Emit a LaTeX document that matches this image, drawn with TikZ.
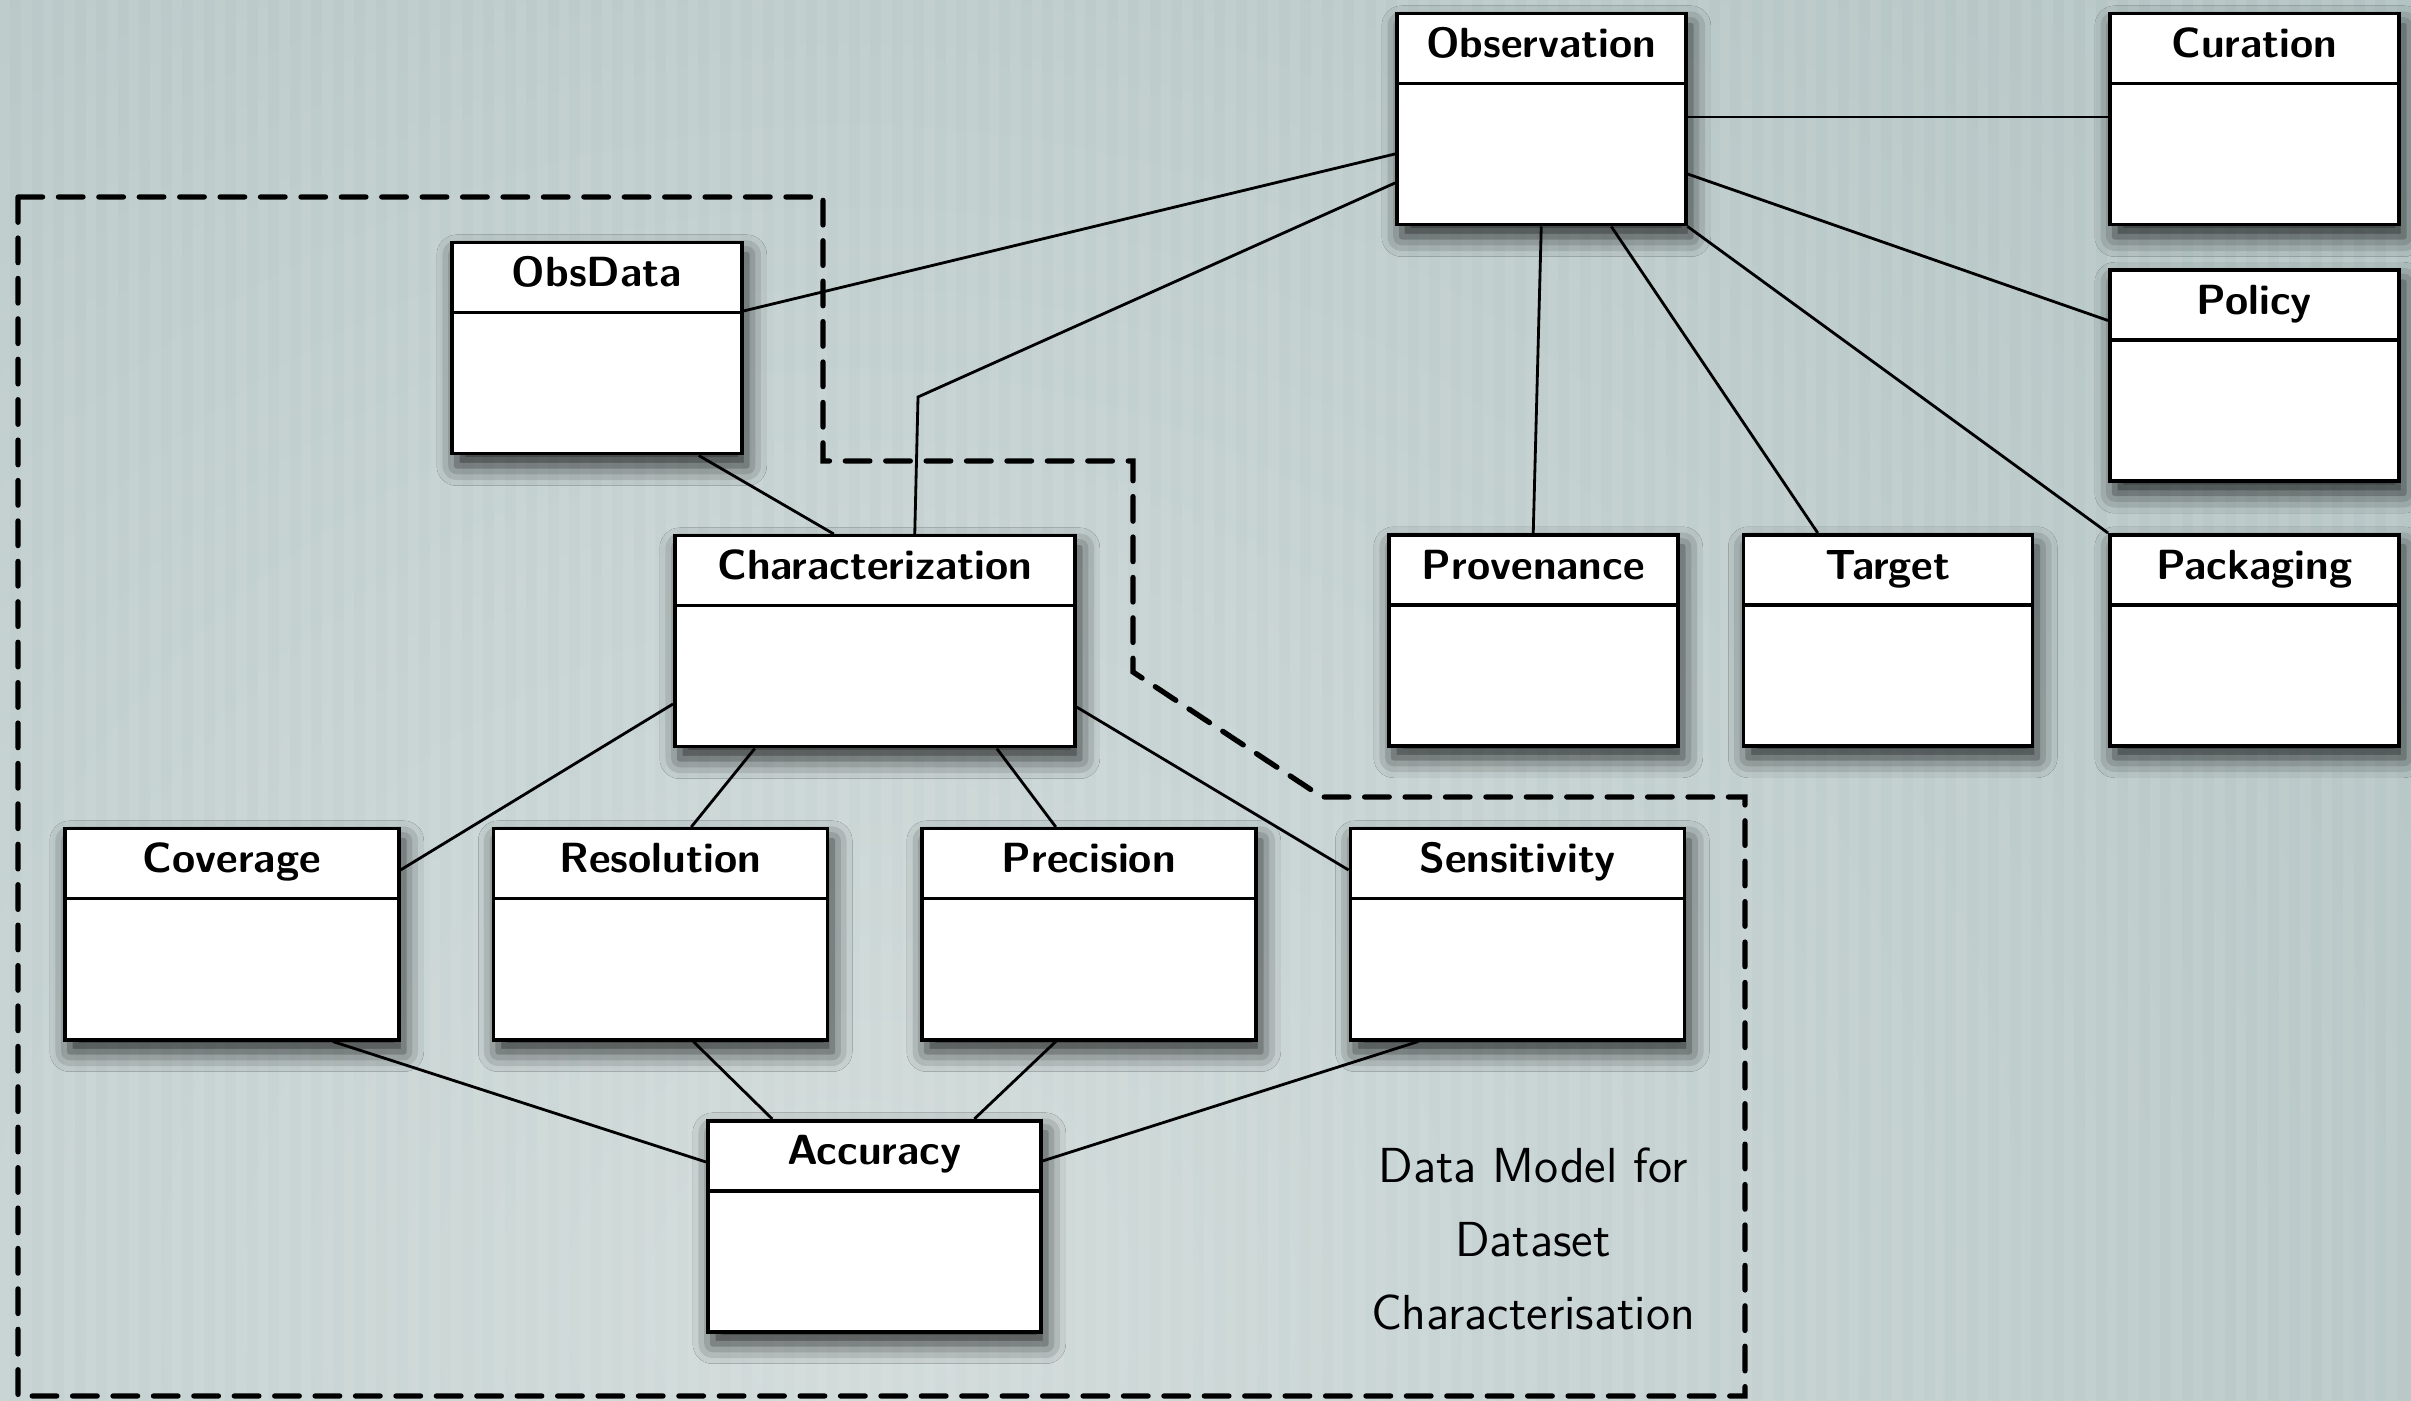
\documentclass[tikz,border=0pt]{standalone}
\usepackage{fontspec}
\usetikzlibrary{positioning, calc, shadows.blur}

\definecolor{bgdark}{RGB}{163,183,183}
\definecolor{bglight}{RGB}{210,220,219}

\begin{document}
\begin{tikzpicture}
      \tikzstyle{title} = [font=\sffamily\bfseries\fontsize{12}{14}\selectfont, anchor=base, yshift=-4.6mm, inner sep=0pt]
      \tikzstyle{cls} = [draw, line width=1pt, fill=white, inner sep=0pt, minimum width=2.89cm, minimum height=2.11cm, anchor=north west, blur shadow={shadow xshift=0.5mm, shadow yshift=-1.2mm, shadow blur radius=2mm, shadow opacity=80}, path picture={\draw[line width=1pt] ([yshift=-7mm]path picture bounding box.north west) -- ([yshift=-7mm]path picture bounding box.north east);}, label={[title]north:#1}]
      \tikzstyle{connect} = [line width=0.8pt]
      \tikzstyle{region} = [line width=1.5pt, dash pattern=on 7pt off 4.5pt, line cap=round]
      % background
      \begin{scope}
        \clip (0,0) rectangle (24.11,14.01);
        \shade[inner color=bglight, outer color=bgdark] (8.5,1.0) circle (30);
        \foreach \i in {0,...,111}
          \fill[white, opacity=0.07] (0.215*\i,0) rectangle ++(0.1,14.01);
      \end{scope}
      \useasboundingbox (0,0) rectangle (24.11,14.01);
      % dataset characterisation part
      \draw[region] (0.18,12.04) -- (8.23,12.04) -- (8.23,9.40) -- (11.33,9.40) -- (11.33,7.29) -- (13.22,6.04) -- (17.45,6.04) -- (17.45,0.05) -- (0.18,0.05) -- cycle;
      \node[align=center, font=\sffamily\fontsize{14}{21}\selectfont] (dm) at (15.33,1.62) {Data Model for\\Dataset\\Characterisation};
      % classes
      \node[cls=Observation] (obs) at (13.95,13.89) {};
      \node[cls=Curation] (cur) at (21.08,13.89) {};
      \node[cls=Policy, below=0.42cm of cur] (pol) {};
      \node[cls=Packaging, below=0.50cm of pol] (pack) {};
      \node[cls=Target, left=0.74cm of pack] (tgt) {};
      \node[cls=Provenance, left=0.62cm of tgt] (prov) {};
      \node[cls=ObsData, minimum width=2.90cm] (obsd) at (4.50,11.60) {};
      \node[cls=Characterization, minimum width=4.00cm] (char) at (6.73,8.67) {};
      \node[cls=Coverage, minimum width=3.34cm] (cov) at (0.63,5.74) {};
      \node[cls=Resolution, minimum width=3.34cm, right=0.91cm of cov] (res) {};
      \node[cls=Precision, minimum width=3.34cm, right=0.91cm of res] (prec) {};
      \node[cls=Sensitivity, minimum width=3.34cm, right=0.91cm of prec] (sens) {};
      \node[cls=Accuracy, minimum width=3.33cm] (acc) at (7.06,2.82) {};
      % associations
      \draw[connect] ([yshift=-1.42cm]obs.north west) -- ([yshift=-0.70cm]obsd.north east);
      \draw[connect] ([yshift=-1.71cm]obs.north west) -- (9.18,10.04) -- ([xshift=0.40cm]char.north);
      \draw[connect] ([yshift=-1.05cm]obs.north east) -- ([yshift=-1.05cm]cur.north west);
      \draw[connect] ([yshift=-1.62cm]obs.north east) -- ([yshift=-0.52cm]pol.north west);
      \draw[connect] (obs.south east) -- (pack.north west);
      \draw[connect] (obs.south) -- (prov.north);
      \draw[connect] ([xshift=0.70cm]obs.south) -- ([xshift=-0.70cm]tgt.north);
      \draw[connect] ([xshift=1.02cm]obsd.south) -- ([xshift=-0.41cm]char.north);
      \draw[connect] ([yshift=-1.70cm]char.north west) -- ([yshift=-0.43cm]cov.north east);
      \draw[connect] ([xshift=-1.20cm]char.south) -- ([xshift=0.31cm]res.north);
      \draw[connect] ([xshift=1.22cm]char.south) -- ([xshift=-0.33cm]prec.north);
      \draw[connect] ([yshift=-1.73cm]char.north east) -- ([yshift=-0.43cm]sens.north west);
      \draw[connect] ([xshift=1.01cm]cov.south) -- ([yshift=-0.43cm]acc.north west);
      \draw[connect] ([xshift=0.33cm]res.south) -- ([xshift=-1.02cm]acc.north);
      \draw[connect] ([xshift=-0.33cm]prec.south) -- ([xshift=1.00cm]acc.north);
      \draw[connect] ([xshift=-0.99cm]sens.south) -- ([yshift=-0.42cm]acc.north east);
    \end{tikzpicture}
\end{document}
